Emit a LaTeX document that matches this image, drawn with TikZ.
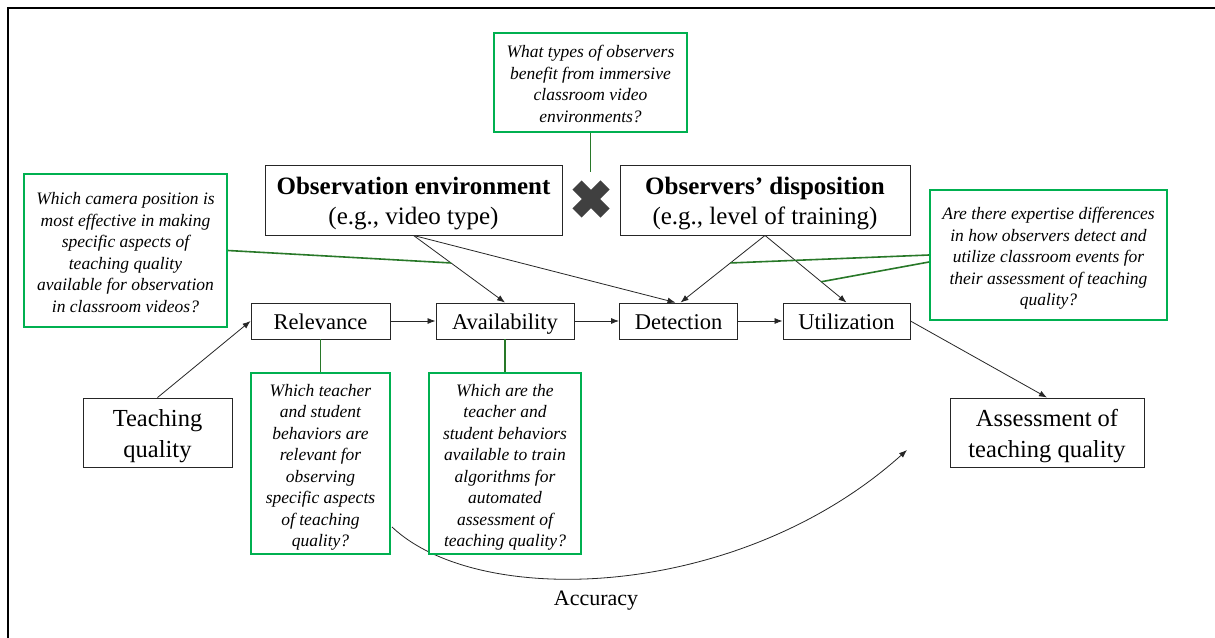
\documentclass[tikz,border=0pt]{standalone}
\usepackage{fontspec}
\setmainfont{Liberation Serif}
\usetikzlibrary{arrows.meta,calc}
\definecolor{qgreen}{RGB}{0,176,80}
\definecolor{lgreen}{RGB}{40,120,40}
\definecolor{xgrey}{RGB}{64,64,64}
\newcommand\lowtext[1]{\raisebox{-3.5pt}[\height][\depth]{\begin{tabular}{@{}c@{}}#1\end{tabular}}}
\tikzset{
  box/.style={draw=black!85, line width=0.9pt, fill=white, inner sep=2pt, align=center, font=\fontsize{22.5}{27}\selectfont},
  smallbox/.style={box, text height=20pt, text depth=4pt},
  bigbox/.style={box, font=\fontsize{24.5}{31}\selectfont},
  headbox/.style={box, font=\fontsize{25}{30}\selectfont},
  qbox/.style={draw=qgreen, line width=2pt, fill=white, inner sep=3pt, align=center, font=\fontsize{17.5}{21.5}\selectfont\itshape},
  arr/.style={-{Latex[length=8pt,width=6pt]}, line width=0.8pt, draw=black!85},
  glink/.style={draw=lgreen, line width=1.6pt},
}
\begin{document}
\begin{tikzpicture}[x=1pt,y=-1pt]
\useasboundingbox (0,0) rectangle (1215,637);
\fill[white] (0,0) rectangle (1215,637);
\draw[line width=1.6pt] (8,660) -- (8,8) -- (1230,8);

% curve (behind boxes)
\coordinate (cstart) at (392,527);
\coordinate (cend) at (907,450);
\draw[arr] (cstart) .. controls (480,610) and (740,600) .. (cend);
\node[font=\fontsize{22}{26}\selectfont] (acc) at (596,601) {Accuracy};

% main boxes
\node[headbox, minimum width=297, minimum height=70] (env) at (413.5,200) {\lowtext{\textbf{Observation environment}\\(e.g., video type)}};
\node[headbox, minimum width=290, minimum height=70] (disp) at (765,200) {\lowtext{\textbf{Observers’ disposition}\\(e.g., level of training)}};
\node[smallbox, minimum width=139, minimum height=36] (rel) at (320.5,321) {Relevance};
\node[smallbox, minimum width=138, minimum height=36] (avail) at (505,321) {Availability};
\node[smallbox, minimum width=118, minimum height=36] (det) at (678.5,321) {Detection};
\node[smallbox, minimum width=127, minimum height=36] (util) at (846.5,321) {Utilization};
\node[bigbox, minimum width=149, minimum height=69] (tq) at (157.5,432.5) {\lowtext{Teaching\\quality}};
\node[bigbox, minimum width=194, minimum height=69] (aq) at (1047,432.5) {\lowtext{Assessment of\\teaching quality}};

% X mark
\coordinate (xm) at (591,199);
\draw[xgrey, line width=13pt] (xm) ++(-14,-14) -- ++(28,28);
\draw[xgrey, line width=13pt] (xm) ++(14,-14) -- ++(-28,28);

% arrows
\draw[arr] (tq.north) -- (rel.west);
\draw[arr] (rel) -- (avail);
\draw[arr] (avail) -- (det);
\draw[arr] (det) -- (util);
\draw[arr] (util.east) -- (aq.north);
\draw[arr] (env.south) -- (avail.north);
\draw[arr] (env.south) -- ([xshift=-3pt]det.north);
\draw[arr] (disp.south) -- ([xshift=2pt]det.north);
\draw[arr] (disp.south) -- (util.north);

% question boxes
\node[qbox, minimum width=193, minimum height=99] (topq) at (590.5,82) {\lowtext{What types of observers\\benefit from immersive\\classroom video\\environments?}};
\node[qbox, minimum width=203, minimum height=153] (leftq) at (125.5,250.5) {\lowtext{Which camera position is\\most effective in making\\specific aspects of\\teaching quality\\available for observation\\in classroom videos?}};
\node[qbox, minimum width=237, minimum height=130] (rightq) at (1048.5,255) {\lowtext{Are there expertise differences\\in how observers detect and\\utilize classroom events for\\their assessment of teaching\\quality?}};
\node[qbox, minimum width=139, minimum height=181] (relq) at (320.5,463.5) {\lowtext{Which teacher\\and student\\behaviors are\\relevant for\\observing\\specific aspects\\of teaching\\quality?}};
\node[qbox, minimum width=152, minimum height=181] (avq) at (505,463.5) {\lowtext{Which are the\\teacher and\\student behaviors\\available to train\\algorithms for\\automated\\assessment of\\teaching quality?}};

% green links
\coordinate (topend) at (590.5,172);
\draw[glink] (topq.south) -- (topend);
\draw[glink] (leftq.east) -- ($(env.south)!0.41!(avail.north)$);
\draw[glink] (rightq.west) -- ($(disp.south)!0.41!([xshift=2pt]det.north)$);
\draw[glink] ([yshift=-7pt]rightq.west) -- ($(disp.south)!0.69!(util.north)$);
\draw[glink] (rel.south) -- (relq.north);
\draw[glink] (avail.south) -- (avq.north);
\end{tikzpicture}
\end{document}
